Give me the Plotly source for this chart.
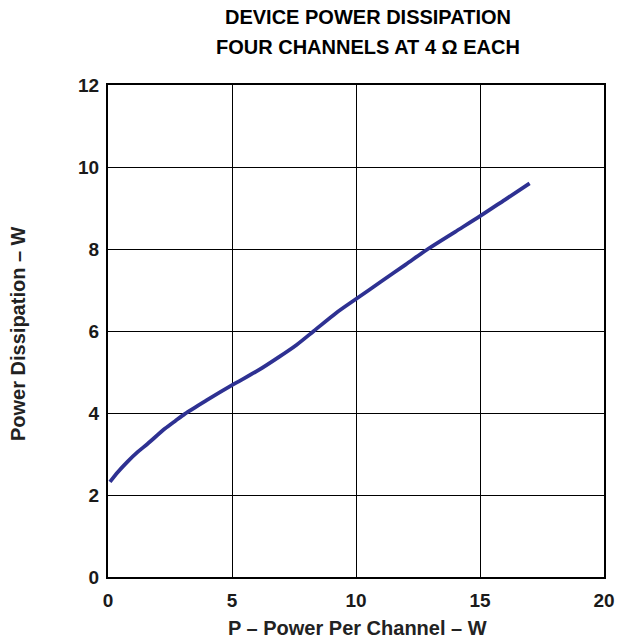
import plotly.graph_objects as go

power_per_channel = [0.08, 0.4, 0.8, 1.2, 1.6, 2.3, 2.7, 3.1, 4.0, 5.0, 6.0, 6.9, 7.6, 8.3,
                     9.2, 10.0, 11.0, 12.0, 12.9, 14.0, 15.0, 16.0, 17.0]
dissipation = [2.32, 2.56, 2.82, 3.05, 3.25, 3.62, 3.8, 3.98, 4.32, 4.68, 5.02, 5.37, 5.66, 6.0,
               6.44, 6.78, 7.2, 7.62, 8.0, 8.42, 8.8, 9.2, 9.6]
x_ticks = [0, 5, 10, 15, 20]
y_ticks = [0, 2, 4, 6, 8, 10, 12]
title_lines = ["DEVICE POWER DISSIPATION", "FOUR CHANNELS AT 4 \u03a9 EACH"]
x_title = "P \u2013 Power Per Channel \u2013 W"
y_title = "Power Dissipation \u2013 W"

FONT = "Liberation Sans, Arial, sans-serif"
W, H = 617, 638
L, R, T, B = 108, 13, 85, 61
PW, PH = W - L - R, H - T - B

fig = go.Figure()
fig.add_trace(go.Scatter(
    x=power_per_channel, y=dissipation, mode="lines",
    line=dict(color="#2E3192", width=3.8, shape="spline", smoothing=0.8),
    showlegend=False, hoverinfo="skip"))

axis_common = dict(
    showgrid=True, gridcolor="black", gridwidth=1,
    showline=True, linecolor="black", linewidth=2, mirror=True,
    zeroline=False, ticks="", automargin=False,
    tickfont=dict(family=FONT, size=19, color="#1a1a1a"),
)

fig.update_layout(
    width=W, height=H,
    margin=dict(l=L, r=R, t=T, b=B, autoexpand=False),
    paper_bgcolor="white", plot_bgcolor="white",
    xaxis=dict(range=[0, 20], tickvals=x_ticks, ticktext=[f"<b>{v}</b>" for v in x_ticks],
               ticklabelstandoff=5, **axis_common),
    yaxis=dict(range=[0, 12], tickvals=y_ticks, ticktext=[f"<b>{v}</b>" for v in y_ticks],
               ticklabelstandoff=3, **axis_common),
)

for i, line in enumerate(title_lines):
    fig.add_annotation(text=f"<b>{line}</b>", xref="paper", yref="paper",
                       x=(368 - L) / PW, y=1 + (T - (17 + 30 * i)) / PH,
                       showarrow=False, xanchor="center", yanchor="middle",
                       font=dict(family=FONT, size=20, color="black"))

fig.add_annotation(text=f"<b>{x_title}</b>", xref="paper", yref="paper",
                   x=(357 - L) / PW, y=(H - B - 628) / PH,
                   showarrow=False, xanchor="center", yanchor="middle",
                   font=dict(family=FONT, size=20, color="#222222"))
fig.add_annotation(text=f"<b>{y_title}</b>", xref="paper", yref="paper",
                   x=(18 - L) / PW, y=(H - B - 334) / PH, textangle=-90,
                   showarrow=False, xanchor="center", yanchor="middle",
                   font=dict(family=FONT, size=20, color="#222222"))

fig.write_html("out.html", config={"displayModeBar": False},
               post_script="document.body.style.margin='0';document.body.style.overflow='hidden';")
